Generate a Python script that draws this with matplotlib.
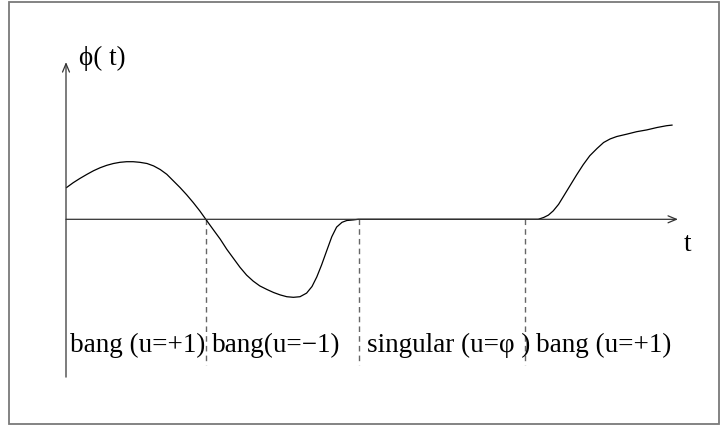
import matplotlib
matplotlib.use('Agg')
import matplotlib.pyplot as plt
from matplotlib.patches import Rectangle

plt.rcParams['font.family'] = ['Liberation Serif', 'DejaVu Serif']

# switching function phi(t), sampled along the sketch
t_vals = [0.01, 0.12, 0.23, 0.35, 0.46, 0.57, 0.68, 0.79, 0.90, 1.01,
          1.12, 1.23, 1.35, 1.46, 1.57, 1.68, 1.79, 1.90, 2.01, 2.12,
          2.23, 2.33, 2.46, 2.57, 2.68, 2.79, 2.90, 3.01, 3.12, 3.23,
          3.35, 3.46, 3.57, 3.68, 3.79, 3.90, 4.01, 4.10, 4.18, 4.26,
          4.35, 4.43, 4.51, 4.60, 4.68, 4.79, 4.87, 7.65, 7.87, 7.96,
          8.04, 8.12, 8.21, 8.29, 8.40, 8.51, 8.62, 8.73, 8.85, 8.96,
          9.07, 9.18, 9.35, 9.51, 9.68, 9.85, 10.01, 10.10]
phi_vals = [0.53, 0.61, 0.68, 0.75, 0.81, 0.86, 0.90, 0.93, 0.95, 0.96,
            0.96, 0.95, 0.93, 0.89, 0.83, 0.75, 0.64, 0.53, 0.41, 0.28,
            0.14, 0.0, -0.18, -0.33, -0.50, -0.65, -0.80, -0.93, -1.03, -1.11,
            -1.17, -1.22, -1.26, -1.29, -1.30, -1.29, -1.23, -1.12, -0.96, -0.76,
            -0.51, -0.29, -0.13, -0.05, -0.02, -0.01, 0.0, 0.0, 0.0, 0.03,
            0.07, 0.14, 0.25, 0.38, 0.56, 0.74, 0.91, 1.06, 1.18, 1.28,
            1.34, 1.38, 1.42, 1.46, 1.49, 1.53, 1.56, 1.57]

# switching times and the arc between them
switch_times = [2.33, 4.88, 7.65]
arc_labels = ['bang (u=+1)', 'bang(u=\u22121)', 'singular (u=\u03c6 )', 'bang (u=+1)']
arc_starts = [0.06, 2.44, 5.02, 7.84]

fig = plt.figure(figsize=(7.2, 4.25), dpi=100)
ax = fig.add_axes([0, 0, 1, 1])
ax.set_xlim(-1.1, 10.9)
ax.set_ylim(-3.428, 3.655)
ax.axis('off')

# frame around the drawing
fig.patches.append(Rectangle((9 / 720, 1.5 / 425), 710 / 720, 422 / 425,
                             transform=fig.transFigure, fill=False,
                             edgecolor='#7a7a7a', lw=1.3))

# axes with open arrow heads
arrow = dict(arrowstyle='->,head_length=0.6,head_width=0.25', color='#333333', lw=0.9,
             shrinkA=0, shrinkB=0)
ax.annotate('', xy=(0, 2.62), xytext=(0, -2.63), arrowprops=arrow)
ax.annotate('', xy=(10.2, 0), xytext=(0, 0), arrowprops=arrow)

ax.text(0.22, 2.57, '\u03d5( t)', fontsize=19.5, ha='left', va='baseline')
ax.text(10.3, -0.53, 't', fontsize=19.5, ha='left', va='baseline')

# switching instants
for ts in switch_times:
    ax.plot([ts, ts], [0, -2.42], color='#666666', lw=1.0, ls=(0, (4, 3)))

ax.plot(t_vals, phi_vals, color='black', lw=0.9)

for x0, lab in zip(arc_starts, arc_labels):
    ax.text(x0, -2.21, lab, fontsize=19.5, ha='left', va='baseline')

fig.savefig('out.png', dpi=100)
